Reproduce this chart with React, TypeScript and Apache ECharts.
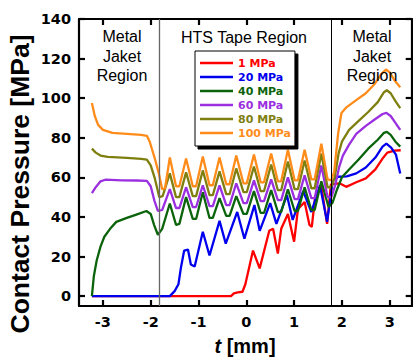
import React, { useEffect, useRef } from 'react';
import * as echarts from 'echarts';

const seriesNames = ['1 MPa', '20 MPa', '40 MPa', '60 MPa', '80 MPa', '100 MPa'];
const seriesColors = ['#ff0000', '#0000ee', '#0b640b', '#9b30e0', '#7f7f10', '#ff8c1a'];

const xTicks = [-3, -2, -1, 0, 1, 2, 3];
const yTicks = [0, 20, 40, 60, 80, 100, 120, 140];

const regionBounds = [-1.83, 1.78];

const p1 = [
  [-3.23, 0], [-0.32, 0], [-0.26, 1.4], [-0.18, 1.9], [-0.08, 2.2], [-0.02, 6], [0.14, 23], [0.28, 14],
  [0.48, 33], [0.56, 34], [0.66, 21.5], [0.73, 34], [0.87, 41.5], [1.0, 27.5], [1.08, 44], [1.22, 47.5],
  [1.32, 36], [1.37, 35], [1.44, 50], [1.57, 55.5], [1.69, 36.5], [1.77, 56.5], [1.95, 57], [2.09, 55.2],
  [2.3, 57.5], [2.5, 59.5], [2.7, 64], [2.85, 69.5], [2.95, 72.5], [3.1, 73.5], [3.23, 73.7],
];

const p20 = [
  [-3.23, 0], [-1.6, 0], [-1.5, 2.5], [-1.42, 6], [-1.37, 14], [-1.3, 23], [-1.22, 23.5], [-1.16, 16],
  [-1.08, 15], [-0.91, 32.5], [-0.77, 20.5], [-0.56, 38], [-0.43, 26.5], [-0.19, 42.5], [-0.04, 29],
  [0.17, 46], [0.28, 33], [0.5, 47], [0.63, 36.5], [0.85, 51], [0.97, 38.5], [1.19, 53], [1.36, 42.5],
  [1.54, 56], [1.69, 37.5], [1.81, 58.6], [1.92, 60.3], [2.1, 60.5], [2.3, 62], [2.5, 65], [2.7, 70],
  [2.85, 75.5], [2.93, 77], [3.03, 75], [3.13, 71.5], [3.22, 62],
];

const p40 = [
  [-3.23, 0], [-3.19, 10], [-3.13, 18], [-3.05, 25], [-2.97, 30], [-2.85, 34], [-2.72, 37.5], [-2.5, 39.5],
  [-2.3, 41.2], [-2.09, 43], [-2.0, 41.5], [-1.93, 36], [-1.85, 31], [-1.76, 34],
  [-1.6, 46.8], [-1.47, 36], [-1.4, 36.5], [-1.26, 50], [-1.12, 39], [-1.05, 39], [-0.91, 52.5],
  [-0.77, 39.5], [-0.7, 39.5], [-0.56, 49.5], [-0.42, 40.5], [-0.35, 40.5], [-0.21, 50.5], [-0.06, 41.5],
  [0.01, 41.5], [0.16, 53], [0.3, 42], [0.37, 42], [0.52, 53.5], [0.66, 42.5], [0.73, 42.5], [0.87, 54],
  [1.01, 43], [1.08, 43], [1.22, 55], [1.36, 43.5], [1.43, 43.5], [1.57, 58], [1.72, 45], [1.8, 47],
  [1.9, 54], [2.0, 60], [2.15, 64], [2.35, 69], [2.55, 74.5], [2.75, 79], [2.88, 82.5], [2.94, 83],
  [3.02, 81.5], [3.12, 78], [3.22, 75.5],
];

const p60 = [
  [-3.23, 52], [-3.15, 55], [-3.05, 58], [-2.95, 58.8], [-2.6, 58.5], [-2.3, 58.4], [-2.08, 58.2],
  [-2.0, 55.5], [-1.92, 48], [-1.85, 43], [-1.76, 43.5],
  [-1.6, 54], [-1.47, 44.5], [-1.4, 44.5], [-1.26, 55], [-1.12, 45], [-1.05, 45], [-0.91, 56],
  [-0.77, 45.5], [-0.7, 45.5], [-0.56, 56], [-0.42, 46], [-0.35, 46], [-0.21, 57], [-0.06, 47], [0.01, 47],
  [0.16, 58.5], [0.3, 48], [0.37, 48], [0.52, 59], [0.66, 48.5], [0.73, 48.5], [0.87, 60], [1.01, 49],
  [1.08, 49], [1.22, 61], [1.36, 49.5], [1.43, 49.5], [1.57, 66], [1.7, 50], [1.78, 50],
  [1.86, 56], [1.94, 65], [2.02, 71], [2.15, 76.5], [2.3, 82], [2.5, 86], [2.7, 89.5], [2.85, 92],
  [2.93, 92.6], [3.02, 91], [3.12, 87.5], [3.22, 84],
];

const p80 = [
  [-3.23, 74.5], [-3.15, 72.5], [-3.05, 71], [-2.9, 70.3], [-2.5, 69.8], [-2.2, 69.3], [-2.08, 69],
  [-2.0, 66], [-1.92, 60], [-1.82, 50], [-1.75, 50.5],
  [-1.6, 62], [-1.47, 50], [-1.4, 50], [-1.26, 62.5], [-1.12, 50.5], [-1.05, 50.5], [-0.91, 63.5],
  [-0.77, 51], [-0.7, 51], [-0.56, 63], [-0.42, 51.5], [-0.35, 51.5], [-0.21, 64.5], [-0.06, 52.5],
  [0.01, 52.5], [0.16, 65.5], [0.3, 53], [0.37, 53], [0.52, 66.5], [0.66, 53.5], [0.73, 53.5], [0.87, 68],
  [1.01, 54], [1.08, 54], [1.22, 68.5], [1.36, 54.5], [1.43, 54.5], [1.57, 72], [1.7, 55], [1.78, 55],
  [1.85, 60], [1.93, 72], [2.0, 78], [2.15, 84], [2.35, 88.5], [2.55, 93], [2.75, 98], [2.88, 103],
  [2.94, 104], [3.02, 102.5], [3.12, 98.5], [3.22, 95],
];

const p100 = [
  [-3.23, 97.5], [-3.17, 91], [-3.1, 86.5], [-3.0, 84], [-2.8, 82.5], [-2.5, 82], [-2.2, 81.5],
  [-2.08, 81], [-2.02, 78], [-1.92, 70], [-1.83, 62], [-1.76, 54], [-1.7, 54.5],
  [-1.6, 70], [-1.47, 55.5], [-1.4, 55.5], [-1.26, 69.5], [-1.12, 55.5], [-1.05, 55.5], [-0.91, 70.5],
  [-0.77, 56], [-0.7, 56], [-0.56, 70], [-0.42, 56.5], [-0.35, 56.5], [-0.21, 71], [-0.06, 57], [0.01, 57],
  [0.16, 71.5], [0.3, 57.5], [0.37, 57.5], [0.52, 72], [0.66, 58], [0.73, 58], [0.87, 74], [1.01, 58.5],
  [1.08, 58.5], [1.22, 74], [1.36, 59], [1.43, 59], [1.57, 77], [1.7, 59], [1.78, 58.5],
  [1.84, 63], [1.92, 82], [1.99, 92.5], [2.1, 95.5], [2.3, 99], [2.5, 102.5], [2.68, 107], [2.82, 112],
  [2.92, 114.5], [3.0, 113], [3.1, 109], [3.22, 105.5],
];

const seriesData = [p1, p20, p40, p60, p80, p100];

const tickFont = { fontFamily: 'DejaVu Sans', fontWeight: 'bold' as const, fontSize: 14.5, color: '#000' };
const frameLine = { show: true, onZero: false, lineStyle: { color: '#000', width: 2.2 } };
const tickStyle = { show: true, inside: true, length: 6, lineStyle: { color: '#000', width: 2.2 } };

export default function App() {
  const ref = useRef<HTMLDivElement>(null);
  useEffect(() => {
    const chart = echarts.init(ref.current!, null, { renderer: 'svg' });
    const series: any[] = seriesNames.map((name, i) => ({
      name,
      type: 'line',
      data: seriesData[i],
      showSymbol: false,
      symbol: 'none',
      lineStyle: { color: seriesColors[i], width: 2.3 },
      itemStyle: { color: seriesColors[i] },
      xAxisIndex: 0,
      yAxisIndex: 0,
    }));
    series[0].markLine = {
      silent: true,
      symbol: ['none', 'none'],
      label: { show: false },
      data: [
        { xAxis: regionBounds[0], lineStyle: { color: '#666', width: 1.3, type: 'solid' } },
        { xAxis: regionBounds[1], lineStyle: { color: '#000', width: 1, type: 'solid' } },
      ],
    };
    chart.setOption({
      animation: false,
      backgroundColor: '#fff',
      grid: { left: 79, top: 19, right: 1.3, bottom: 53 },
      xAxis: [
        {
          type: 'value', min: -3.5, max: 3.46, position: 'bottom',
          axisLine: frameLine,
          axisTick: { ...tickStyle, customValues: xTicks },
          axisLabel: { ...tickFont, margin: 8, customValues: xTicks },
          splitLine: { show: false },
        },
        {
          type: 'value', min: -3.5, max: 3.46, position: 'top',
          axisLine: frameLine,
          axisTick: { ...tickStyle, customValues: xTicks },
          axisLabel: { show: false },
          splitLine: { show: false },
        },
      ],
      yAxis: [
        {
          type: 'value', min: -5, max: 140, position: 'left',
          axisLine: frameLine,
          axisTick: { ...tickStyle, customValues: yTicks },
          axisLabel: { ...tickFont, margin: 8, customValues: yTicks },
          splitLine: { show: false },
        },
        {
          type: 'value', min: -5, max: 140, position: 'right',
          axisLine: frameLine,
          axisTick: { ...tickStyle, customValues: yTicks },
          axisLabel: { show: false },
          splitLine: { show: false },
        },
      ],
      legend: {
        orient: 'vertical',
        left: 195,
        top: 51,
        padding: [5, 4, 6, 5],
        itemGap: 0,
        itemWidth: 33,
        itemHeight: 2.5,
        icon: 'rect',
        backgroundColor: '#fff',
        borderColor: '#000',
        borderWidth: 1,
        shadowColor: '#000',
        shadowBlur: 0,
        shadowOffsetX: 3,
        shadowOffsetY: 3,
        textStyle: { fontFamily: 'DejaVu Sans', fontWeight: 'bold', fontSize: 11, lineHeight: 14 },
        data: seriesNames.map((n, i) => ({ name: n, textStyle: { color: seriesColors[i] } })),
      },
      graphic: [
        {
          type: 'text', x: 122, y: 56, z: 10,
          style: { text: 'Metal\nJaket\nRegion', font: '16px "Liberation Sans", Arial, sans-serif', lineHeight: 19.5, textAlign: 'center', textVerticalAlign: 'middle', fill: '#000' },
        },
        {
          type: 'text', x: 244, y: 37.6, z: 10,
          style: { text: 'HTS Tape Region', font: '16px "Liberation Sans", Arial, sans-serif', textAlign: 'center', textVerticalAlign: 'middle', fill: '#000' },
        },
        {
          type: 'text', x: 372, y: 56, z: 10,
          style: { text: 'Metal\nJaket\nRegion', font: '16px "Liberation Sans", Arial, sans-serif', lineHeight: 19.5, textAlign: 'center', textVerticalAlign: 'middle', fill: '#000' },
        },
        {
          type: 'text', x: 19.5, y: 184, rotation: Math.PI / 2, z: 10,
          style: { text: 'Contact Pressure [MPa]', font: 'bold 26.5px "Liberation Sans", Arial, sans-serif', textAlign: 'center', textVerticalAlign: 'middle', fill: '#000' },
        },
        {
          type: 'text', x: 245, y: 346, z: 10,
          style: {
            text: '{i|t} [mm]',
            font: 'bold 20px "Liberation Sans", Arial, sans-serif',
            textAlign: 'center', textVerticalAlign: 'middle', fill: '#000',
            rich: { i: { fontStyle: 'italic', fontWeight: 'bold', fontSize: 20, fontFamily: '"Liberation Sans", Arial, sans-serif', fill: '#000' } },
          },
        },
      ],
      series,
    });
    return () => chart.dispose();
  }, []);
  return <div ref={ref} style={{ position: 'fixed', left: 0, top: 0, width: 413, height: 359 }} />;
}
